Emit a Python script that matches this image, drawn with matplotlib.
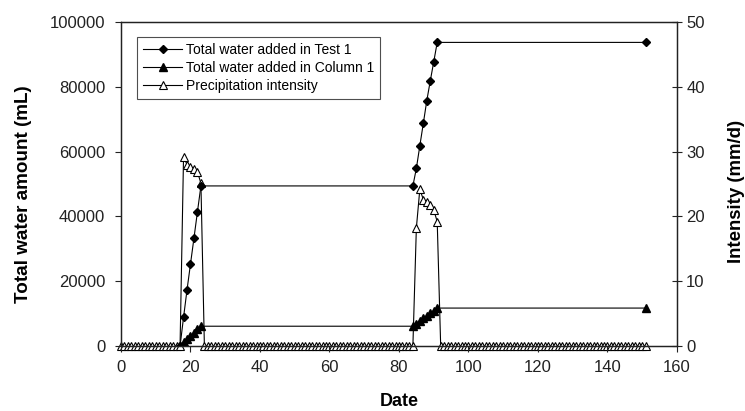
import matplotlib
matplotlib.use("Agg")
import matplotlib.pyplot as plt
import numpy as np

plt.rcParams['font.family'] = ['Liberation Sans', 'DejaVu Sans']

# ---- data ----
# Cumulative water added in Test 1 (mL)
test1_days = [17, 18, 19, 20, 21, 22, 23, 84, 85, 86, 87, 88, 89, 90, 91, 151]
test1_vals = [0, 8800, 17300, 25300, 33300, 41400, 49400,
              49400, 54800, 61800, 68700, 75700, 81800, 87700, 93700, 93700]

# Cumulative water added in Column 1 (mL)
col1_days = [17, 18, 19, 20, 21, 22, 23, 84, 85, 86, 87, 88, 89, 90, 91, 151]
col1_vals = [0, 1100, 2100, 3100, 4100, 5100, 6100,
             6100, 6900, 7700, 8500, 9300, 10100, 10900, 11700, 11700]

# Precipitation intensity (mm/d), daily
pulse1_days = [18, 19, 20, 21, 22, 23]
pulse1_vals = [29.2, 28.0, 27.6, 27.3, 26.9, 25.1]
pulse2_days = [85, 86, 87, 88, 89, 90, 91]
pulse2_vals = [18.2, 24.2, 22.6, 22.2, 21.8, 21.0, 19.2]
last_day = 151

int_days = list(range(0, last_day + 1))
int_vals = [0.0] * len(int_days)
for d, v in zip(pulse1_days + pulse2_days, pulse1_vals + pulse2_vals):
    int_vals[d] = v

x_ticks = [0, 20, 40, 60, 80, 100, 120, 140, 160]
y_ticks = [0, 20000, 40000, 60000, 80000, 100000]
y2_ticks = [0, 10, 20, 30, 40, 50]

# ---- figure ----
fig = plt.figure(figsize=(7.45, 4.11), dpi=100)
ax = fig.add_axes([0.1624, 0.1582, 0.7463, 0.7883])
ax2 = ax.twinx()

lw = 0.8
h1, = ax.plot(test1_days, test1_vals, color='black', lw=lw, marker='D',
              markersize=4.5, markerfacecolor='black', markeredgecolor='black',
              label='Total water added in Test 1')
h2, = ax.plot(col1_days, col1_vals, color='black', lw=lw, marker='^',
              markersize=6, markerfacecolor='black', markeredgecolor='black',
              label='Total water added in Column 1')
h3, = ax2.plot(int_days, int_vals, color='black', lw=lw, marker='^',
               markersize=6, markerfacecolor='white', markeredgecolor='black',
               markeredgewidth=0.8, label='Precipitation intensity', clip_on=False)

ax.set_xlim(0, 160)
ax.set_ylim(0, 100000)
ax2.set_ylim(0, 50)
ax.set_xticks(x_ticks)
ax.set_yticks(y_ticks)
ax2.set_yticks(y2_ticks)

ax.tick_params(axis='x', labelsize=12, colors='#222222', direction='out', length=4, width=0.8, pad=6)
ax.tick_params(axis='y', labelsize=12, colors='#222222', direction='out', length=4.3, width=0.8, pad=7)
ax2.tick_params(axis='y', labelsize=12, colors='#222222', direction='inout', length=7.2, width=0.8, pad=3)
for a in (ax, ax2):
    for s in a.spines.values():
        s.set_linewidth(0.9)
        s.set_color('#222222')

ax.set_xlabel('Date', fontsize=13, fontweight='bold')
ax.set_ylabel('Total water amount (mL)', fontsize=13.6, fontweight='bold')
ax2.set_ylabel('Intensity (mm/d)', fontsize=13.4, fontweight='bold')
ax.xaxis.set_label_coords(0.5, -0.145)
ax.yaxis.set_label_coords(-0.160, 0.469)
ax2.yaxis.set_label_coords(1.092, 0.478)

leg = ax.legend(handles=[h1, h2, h3], loc='upper left', bbox_to_anchor=(0.029, 0.955),
                fontsize=10, frameon=True, fancybox=False, edgecolor='#222222',
                handlelength=2.8, handletextpad=0.25, borderpad=0.45, labelspacing=0.3,
                borderaxespad=0)
leg.get_frame().set_linewidth(0.8)
leg.set_zorder(10)
ax.set_zorder(ax2.get_zorder() + 1)
ax.patch.set_visible(False)

fig.savefig('out.png', dpi=100)
